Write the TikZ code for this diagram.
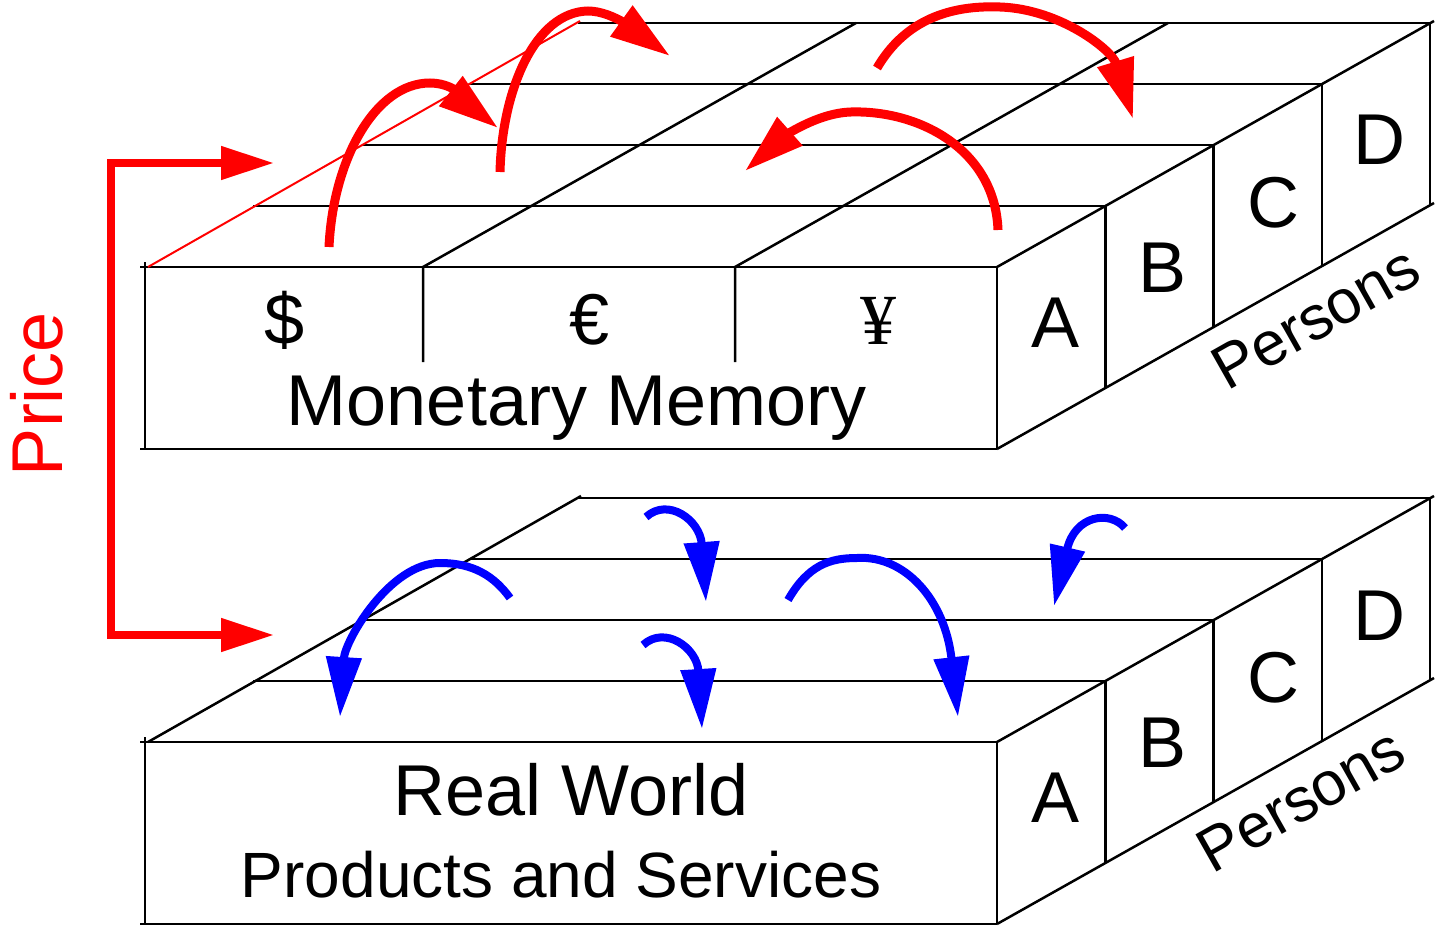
\documentclass[tikz,border=0pt]{standalone}
\usepackage{fontspec}
\setmainfont{Liberation Sans}
\newfontfamily\yenfont{Liberation Serif}
\usetikzlibrary{arrows.meta}
\begin{document}
\begin{tikzpicture}[x=1pt,y=-1pt,
  edge/.style={line width=2.5pt, line join=miter},
  thinred/.style={red, line width=2pt},
  redarc/.style={red, line width=9pt, -{Triangle[length=60pt,width=36pt]}},
  bluearc/.style={blue, line width=8pt, -{Triangle[length=60pt,width=34pt]}},
  pricearrow/.style={red, line width=8pt, line join=miter,
     {Triangle[length=53pt,width=32pt]}-{Triangle[length=53pt,width=32pt]}},
  big/.style={font=\fontsize{72}{80}\selectfont, inner sep=0pt, anchor=base},
  mid/.style={font=\fontsize{64}{72}\selectfont, inner sep=0pt, anchor=base},
  pers/.style={font=\fontsize{62}{70}\selectfont, inner sep=0pt, anchor=base, rotate=29.5}]
\useasboundingbox (0,0) rectangle (1437,928);

% ---------- two slabs ----------
\foreach \o in {0,475}{
  \begin{scope}[shift={(0,\o)}]
    \draw[edge] (140,267) -- (997,267);
    \draw[edge] (140,449) -- (997,449);
    \draw[edge] (145,262) -- (145,449);
    \draw[edge] (997,267) -- (997,449);
    \foreach \k in {1,2,3,4}{
      \draw[edge] (145+108.25*\k,267-61*\k) -- (997+108.25*\k,267-61*\k);
      \draw[edge] (997+108.25*\k,267-61*\k) -- (997+108.25*\k,449-61*\k);
    }
    \draw[edge] (997,267) -- (1434,21);
    \draw[edge] (997,449) -- (1434,203);
  \end{scope}
}
% dividers of the monetary memory
\draw[edge] (423,362) -- (423,267) -- (856,23);
\draw[edge] (735,362) -- (735,267) -- (1168,23);
% left depth edges
\draw[thinred] (148,267) -- (580,21);
\draw[edge] (148,742) -- (581,496);

% ---------- texts ----------
\node[big] (usd) at (285,344) {\$};
\node[big] (eur) at (590,344) {€};
\node[big] (yen) at (878,344) {\yenfont ¥};
\node[big] (mm) at (577,425) {Monetary Memory};
\node[big] (rw) at (571,815) {Real World};
\node[mid] (ps) at (561,897) {Products and Services};

\foreach \o/\n in {0/u,475/l}{
  \node[big] (A\n) at (1055,347+\o) {A};
  \node[big] (B\n) at (1162,292+\o) {B};
  \node[big] (C\n) at (1273,227+\o) {C};
  \node[big] (D\n) at (1379,165+\o) {D};
}
\node[pers] (persu) at (1326,336) {Persons};
\node[pers] (persl) at (1311,818) {Persons};
\node[big, red, rotate=90] (price) at (62,394) {Price};

% ---------- price connector ----------
\coordinate (pt) at (274,163);
\coordinate (pb) at (274,635);
\coordinate (pm) at (111,398);
\draw[pricearrow] (pt) -| (pm) |- (pb);

% ---------- red arcs ----------
\coordinate (r1s) at (329,247); \coordinate (r1t) at (498,128);
\draw[redarc] (r1s) .. controls (333,160) and (375,83) .. (430,83)
   .. controls (460,83) and (475,110) .. (r1t);
\coordinate (r2s) at (500,172); \coordinate (r2t) at (670,56);
\draw[redarc] (r2s) .. controls (502,90) and (535,12) .. (588,11)
   .. controls (615,11) and (645,38) .. (r2t);
\coordinate (r3s) at (877,68); \coordinate (r3t) at (1133,119);
\draw[redarc] (r3s) .. controls (905,20) and (950,5) .. (1000,7)
   .. controls (1060,9) and (1112,50) .. (r3t);
\coordinate (r4s) at (998,230); \coordinate (r4t) at (745,171);
\draw[redarc] (r4s) .. controls (995,150) and (920,110) .. (851,112)
   .. controls (815,113) and (780,140) .. (r4t);

% ---------- blue arcs ----------
\coordinate (b1s) at (510,598); \coordinate (b1t) at (340,717);
\draw[bluearc] (b1s) .. controls (490,570) and (465,563) .. (440,563)
   .. controls (390,563) and (345,640) .. (b1t);
\coordinate (b2s) at (646,517); \coordinate (b2t) at (706,602);
\draw[bluearc] (b2s) .. controls (668,497) and (700,520) .. (b2t);
\coordinate (b3s) at (643,645); \coordinate (b3t) at (702,729);
\draw[bluearc] (b3s) .. controls (665,625) and (697,648) .. (b3t);
\coordinate (b4s) at (788,600); \coordinate (b4t) at (958,717);
\draw[bluearc] (b4s) .. controls (808,565) and (830,558) .. (857,558)
   .. controls (905,555) and (945,600) .. (b4t);
\coordinate (b5s) at (1125,528); \coordinate (b5t) at (1054,606);
\draw[bluearc] (b5s) .. controls (1110,510) and (1075,515) .. (b5t);
\end{tikzpicture}
\end{document}
